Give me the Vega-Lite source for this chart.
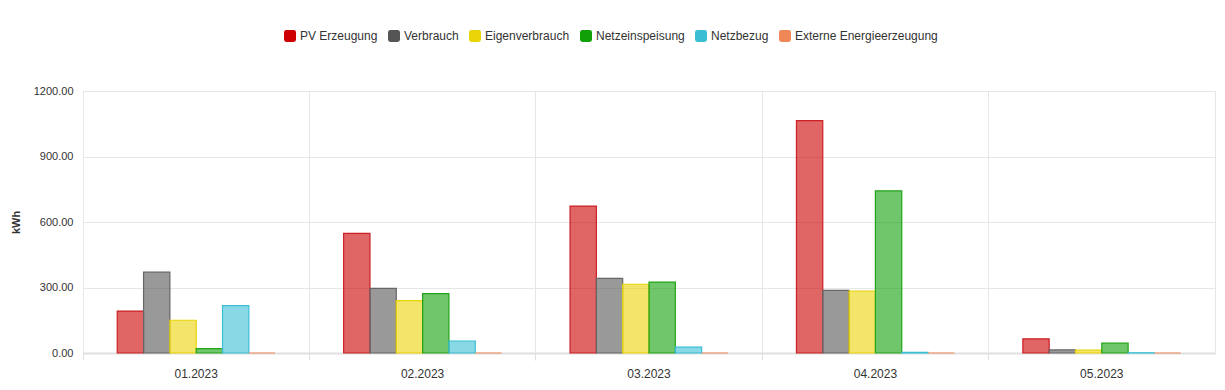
{
  "$schema": "https://vega.github.io/schema/vega-lite/v6.json",
  "width": 1132,
  "height": 262,
  "autosize": {"type": "none"},
  "padding": {"left": 83, "top": 91, "right": 10, "bottom": 37},
  "background": "white",
  "config": {
    "font": "Liberation Sans",
    "view": {"stroke": "#e6e6e6"},
    "axis": {"labelFont": "Liberation Sans", "titleFont": "Liberation Sans"},
    "legend": {"labelFont": "Liberation Sans"}
  },
  "data": {
    "values": [
      {"month": "01.2023", "series": "PV Erzeugung", "value": 192},
      {"month": "01.2023", "series": "Verbrauch", "value": 370},
      {"month": "01.2023", "series": "Eigenverbrauch", "value": 150},
      {"month": "01.2023", "series": "Netzeinspeisung", "value": 20},
      {"month": "01.2023", "series": "Netzbezug", "value": 217},
      {"month": "01.2023", "series": "Externe Energieerzeugung", "value": 0},
      {"month": "02.2023", "series": "PV Erzeugung", "value": 548},
      {"month": "02.2023", "series": "Verbrauch", "value": 296},
      {"month": "02.2023", "series": "Eigenverbrauch", "value": 240},
      {"month": "02.2023", "series": "Netzeinspeisung", "value": 272},
      {"month": "02.2023", "series": "Netzbezug", "value": 55},
      {"month": "02.2023", "series": "Externe Energieerzeugung", "value": 0},
      {"month": "03.2023", "series": "PV Erzeugung", "value": 673},
      {"month": "03.2023", "series": "Verbrauch", "value": 342},
      {"month": "03.2023", "series": "Eigenverbrauch", "value": 315},
      {"month": "03.2023", "series": "Netzeinspeisung", "value": 325},
      {"month": "03.2023", "series": "Netzbezug", "value": 27},
      {"month": "03.2023", "series": "Externe Energieerzeugung", "value": 0},
      {"month": "04.2023", "series": "PV Erzeugung", "value": 1064},
      {"month": "04.2023", "series": "Verbrauch", "value": 287},
      {"month": "04.2023", "series": "Eigenverbrauch", "value": 284},
      {"month": "04.2023", "series": "Netzeinspeisung", "value": 743},
      {"month": "04.2023", "series": "Netzbezug", "value": 3},
      {"month": "04.2023", "series": "Externe Energieerzeugung", "value": 0},
      {"month": "05.2023", "series": "PV Erzeugung", "value": 65},
      {"month": "05.2023", "series": "Verbrauch", "value": 14},
      {"month": "05.2023", "series": "Eigenverbrauch", "value": 13},
      {"month": "05.2023", "series": "Netzeinspeisung", "value": 45},
      {"month": "05.2023", "series": "Netzbezug", "value": 1},
      {"month": "05.2023", "series": "Externe Energieerzeugung", "value": 0}
    ]
  },
  "mark": {"type": "bar", "fillOpacity": 0.6, "strokeWidth": 1.2, "strokeOpacity": 1},
  "encoding": {
    "x": {
      "field": "month",
      "type": "nominal",
      "sort": null,
      "scale": {"paddingInner": 0.07, "paddingOuter": 0.035},
      "axis": {
        "title": null,
        "labelAngle": 0,
        "bandPosition": -0.0376,
        "tickExtra": false,
        "grid": true,
        "gridColor": "#e6e6e6",
        "gridWidth": 1,
        "domainColor": "#e0e0e0",
        "domainWidth": 2,
        "tickColor": "#e0e0e0",
        "tickSize": 7,
        "labelFontSize": 12,
        "labelColor": "#333333",
        "labelPadding": 8
      }
    },
    "xOffset": {
      "field": "series",
      "type": "nominal",
      "sort": ["PV Erzeugung", "Verbrauch", "Eigenverbrauch", "Netzeinspeisung", "Netzbezug", "Externe Energieerzeugung"],
      "scale": {"paddingInner": 0, "paddingOuter": 1}
    },
    "y": {
      "field": "value",
      "type": "quantitative",
      "scale": {"domain": [0, 1200], "nice": false},
      "axis": {
        "title": "kWh",
        "titleFontSize": 11,
        "titleFontWeight": "bold",
        "titleColor": "#333333",
        "titlePadding": 12,
        "values": [0, 300, 600, 900, 1200],
        "format": ".2f",
        "labelFontSize": 11,
        "labelColor": "#333333",
        "labelPadding": 10,
        "ticks": false,
        "domain": false,
        "gridColor": "#e6e6e6"
      }
    },
    "color": {
      "field": "series",
      "type": "nominal",
      "scale": {
        "domain": ["PV Erzeugung", "Verbrauch", "Eigenverbrauch", "Netzeinspeisung", "Netzbezug", "Externe Energieerzeugung"],
        "range": ["#cc0000", "#555555", "#e9d407", "#11a007", "#39bed4", "#ef8756"]
      },
      "legend": {
        "title": null,
        "orient": "none",
        "direction": "horizontal",
        "legendX": 201,
        "legendY": -61,
        "labelFontSize": 12,
        "labelColor": "#333333",
        "symbolType": "M -0.6 -1 L 0.6 -1 Q 1 -1 1 -0.6 L 1 0.6 Q 1 1 0.6 1 L -0.6 1 Q -1 1 -1 0.6 L -1 -0.6 Q -1 -1 -0.6 -1 Z",
        "symbolSize": 144,
        "symbolOpacity": 1,
        "symbolStrokeWidth": 0,
        "labelOffset": 4,
        "columnPadding": 10
      }
    },
    "stroke": {
      "field": "series",
      "type": "nominal",
      "scale": {
        "domain": ["PV Erzeugung", "Verbrauch", "Eigenverbrauch", "Netzeinspeisung", "Netzbezug", "Externe Energieerzeugung"],
        "range": ["#cc1f26", "#666666", "#e9d407", "#22a31a", "#39bed4", "#ef8756"]
      },
      "legend": null
    }
  }
}
